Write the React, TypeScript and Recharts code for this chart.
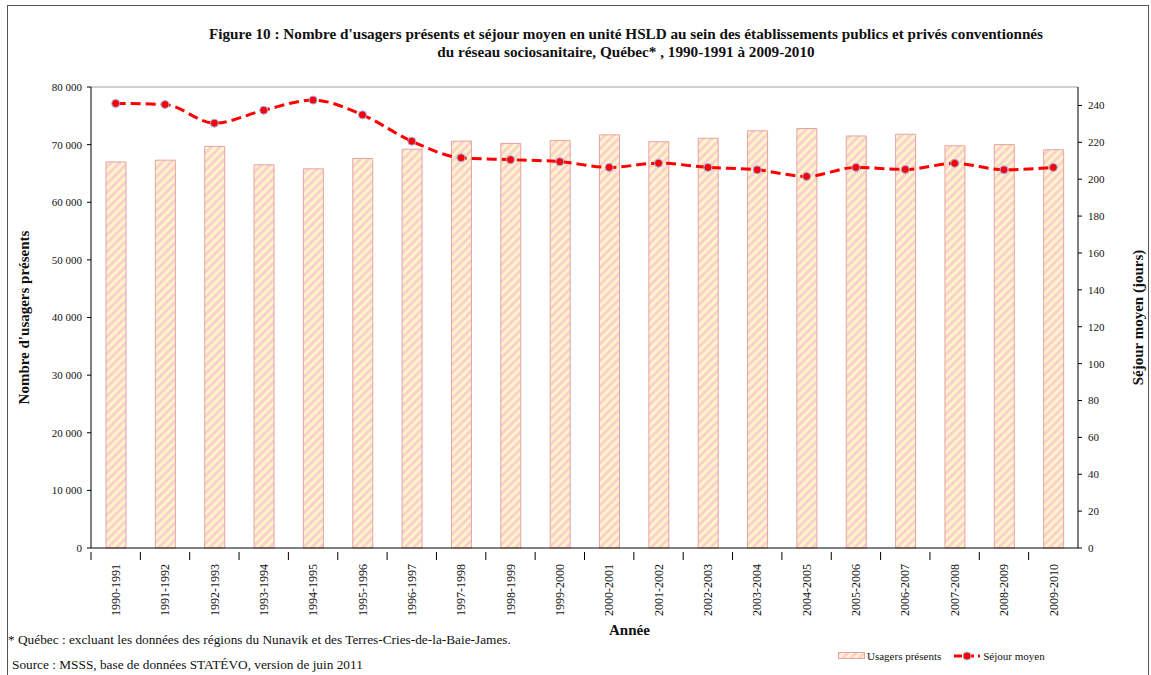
import { ComposedChart, Bar, Line, XAxis, YAxis, ReferenceLine } from 'recharts';

const years = [
  '1990-1991', '1991-1992', '1992-1993', '1993-1994', '1994-1995',
  '1995-1996', '1996-1997', '1997-1998', '1998-1999', '1999-2000',
  '2000-2001', '2001-2002', '2002-2003', '2003-2004', '2004-2005',
  '2005-2006', '2006-2007', '2007-2008', '2008-2009', '2009-2010',
];

const usagers = [
  67000, 67300, 69700, 66500, 65800, 67600, 69200, 70600, 70200, 70700,
  71700, 70500, 71100, 72400, 72800, 71500, 71800, 69800, 70000, 69100,
];

const sejour = [
  241.1, 240.5, 230.4, 237.4, 242.9, 234.9, 220.6, 211.6, 210.6, 209.5,
  206.4, 208.7, 206.4, 205.1, 201.5, 206.4, 205.3, 208.6, 205.1, 206.4,
];

const leftTicks = [0, 10000, 20000, 30000, 40000, 50000, 60000, 70000, 80000];
const rightTicks = [0, 20, 40, 60, 80, 100, 120, 140, 160, 180, 200, 220, 240];

const data = years.map((year, i) => ({ year, usagers: usagers[i], sejour: sejour[i] }));

const FONT = '"Liberation Serif", "Times New Roman", serif';

const fmt = (v: number) => v.toLocaleString('en-US').replace(/,/g, ' ');

function YearTick(props: any) {
  const { x, y, payload } = props;
  const off = payload.offset || 0;
  return (
    <g>
      <line x1={x - off} y1={y - 4} x2={x - off} y2={y + 4} stroke="#000" />
      <text
        x={x}
        y={y + 8}
        transform={`rotate(-90, ${x}, ${y + 8})`}
        textAnchor="end"
        dy="0.35em"
        fontSize={12}
        fontFamily={FONT}
        fill="#111"
      >
        {payload.value}
      </text>
    </g>
  );
}

function LegendBox() {
  return (
    <div style={{ position: 'absolute', left: 838, top: 650, display: 'flex', alignItems: 'center', fontFamily: FONT, fontSize: 11, color: '#111' }}>
      <svg width={28} height={8} style={{ marginRight: 1 }}>
        <rect x={0.5} y={0.5} width={26} height={6} fill="url(#stripes)" stroke="#e6a3a3" />
      </svg>
      <span style={{ marginRight: 12 }}>Usagers présents</span>
      <svg width={28} height={10} style={{ marginRight: 2 }}>
        <line x1={1} y1={5} x2={27} y2={5} stroke="#ff0000" strokeWidth={3} strokeDasharray="8 4" />
        <circle cx={14} cy={5} r={4} fill="#ff0000" stroke="#9bb4f0" strokeWidth={1} />
      </svg>
      <span>Séjour moyen</span>
    </div>
  );
}

export default function App() {
  return (
    <div style={{ position: 'absolute', left: 0, top: 0, width: 1151, height: 675, overflow: 'hidden', background: '#fff', fontFamily: FONT }}>
      <div style={{ position: 'absolute', left: 7, top: 5, width: 1140, height: 700, border: '1px solid #555' }} />
      <div style={{ position: 'absolute', left: 0, top: 25, width: 1252, textAlign: 'center', fontWeight: 'bold', fontSize: 15.2, lineHeight: '18px', color: '#111' }}>
        Figure 10 : Nombre d'usagers présents et séjour moyen en unité HSLD au sein des établissements publics et privés conventionnés
        <br />
        du réseau sociosanitaire, Québec* , 1990-1991 à 2009-2010
      </div>

      <ComposedChart
        width={1151}
        height={675}
        data={data}
        margin={{ top: 87, right: 13, left: 31, bottom: 67 }}
        style={{ position: 'absolute', left: 0, top: 0 }}
      >
        <defs>
          <pattern id="stripes" patternUnits="userSpaceOnUse" width={6} height={6} patternTransform="rotate(45)">
            <rect x={0} y={0} width={6} height={6} fill="#fff6c8" />
            <rect x={0} y={0} width={3} height={6} fill="#fbd0d0" />
          </pattern>
        </defs>
        <XAxis
          dataKey="year"
          interval={0}
          height={60}
          tick={<YearTick />}
          tickLine={false}
          axisLine={{ stroke: '#000' }}
        />
        <YAxis
          yAxisId="left"
          domain={[0, 80000]}
          ticks={leftTicks}
          tickFormatter={fmt}
          width={60}
          tickSize={4}
          tickMargin={5}
          axisLine={{ stroke: '#000' }}
          tickLine={{ stroke: '#000' }}
          tick={{ fontSize: 11, fontFamily: FONT, fill: '#111' }}
          label={{ value: "Nombre d'usagers présents", angle: -90, position: 'insideLeft', dx: -12, style: { textAnchor: 'middle', fontWeight: 'bold', fontSize: 15, fontFamily: FONT, fill: '#111' } }}
        />
        <YAxis
          yAxisId="right"
          orientation="right"
          domain={[0, 250]}
          ticks={rightTicks}
          width={60}
          tickSize={4}
          tickMargin={6}
          axisLine={{ stroke: '#000' }}
          tickLine={{ stroke: '#000' }}
          tick={{ fontSize: 11, fontFamily: FONT, fill: '#111', textAnchor: 'start' }}
          label={{ value: 'Séjour moyen (jours)', angle: -90, position: 'insideRight', dx: 5, style: { textAnchor: 'middle', fontWeight: 'bold', fontSize: 15, fontFamily: FONT, fill: '#111' } }}
        />
        <ReferenceLine yAxisId="left" y={80000} stroke="#a0a0a0" />
        <Bar
          yAxisId="left"
          dataKey="usagers"
          name="Usagers présents"
          fill="url(#stripes)"
          stroke="#e6a3a3"
          strokeWidth={1}
          barSize={20}
          isAnimationActive={false}
        />
        <Line
          yAxisId="right"
          dataKey="sejour"
          name="Séjour moyen"
          type="monotone"
          stroke="#ff0000"
          strokeWidth={3}
          strokeDasharray="10 5"
          dot={{ r: 4, fill: '#ff0000', stroke: '#9bb4f0', strokeWidth: 1, strokeDasharray: '' }}
          isAnimationActive={false}
        />
      </ComposedChart>

      <LegendBox />
      <div style={{ position: 'absolute', left: 609, top: 622, fontWeight: 'bold', fontSize: 15, color: '#111' }}>Année</div>
      <div style={{ position: 'absolute', left: 8, top: 632, fontSize: 13.3, color: '#111' }}>
        * Québec : excluant les données des régions du Nunavik et des Terres-Cries-de-la-Baie-James.
      </div>
      <div style={{ position: 'absolute', left: 12, top: 657, fontSize: 13.3, color: '#111' }}>
        Source : MSSS, base de données STATÉVO, version de juin 2011
      </div>
    </div>
  );
}
